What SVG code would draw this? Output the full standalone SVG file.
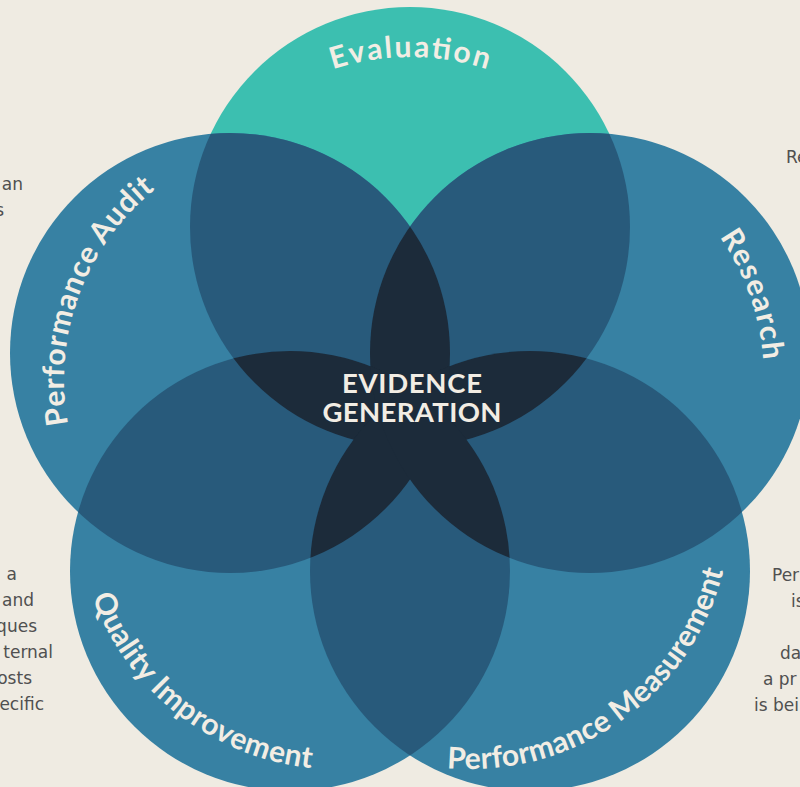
<svg xmlns="http://www.w3.org/2000/svg" xmlns:xlink="http://www.w3.org/1999/xlink" width="800" height="787" viewBox="0 0 800 787">
<style>
.bg{fill:#efebe2}
.teal{fill:#3cbfb0}
.blue{fill:#3781a3}
.m{fill:#285a7b}
.d{fill:#1c2b3a}
.lbl{font-family:"Lato","Open Sans","DejaVu Sans",sans-serif;font-weight:700;font-size:30px;fill:#f2ede4}
.ctr{font-family:"Lato","Open Sans","DejaVu Sans",sans-serif;font-weight:700;font-size:27.5px;fill:#f2ede4;text-anchor:middle}
.frag{font-family:"DejaVu Sans","Lato",sans-serif;font-weight:400;font-size:17px;fill:#505050}
.end{text-anchor:end}
</style>
<defs>
<clipPath id="cT"><circle cx="410" cy="227" r="220"/></clipPath>
<clipPath id="cL"><circle cx="230" cy="353" r="220"/></clipPath>
<clipPath id="cR"><circle cx="590" cy="353" r="220"/></clipPath>
<clipPath id="cBL"><circle cx="290" cy="571" r="220"/></clipPath>
<clipPath id="cBR"><circle cx="530" cy="571" r="220"/></clipPath>
<path id="pEval" d="M 162,305 A 248 248 0 0 1 658,305"/>
<path id="pAudit" d="M 224,609.8 A 245 245 0 0 1 394,150.2"/>
<path id="pRes" d="M 430.5,143.3 A 250 250 0 0 1 597.5,614.7"/>
<path id="pQual" d="M 132.1,346.2 A 262 262 0 0 0 545.1,668.8"/>
<path id="pMeas" d="M 257.5,659.6 A 261 261 0 0 0 682.5,356.4"/>
</defs>
<rect class="bg" x="0" y="0" width="800" height="787"/>

<g id="side-text">
<text class="frag end" x="23" y="190">an</text>
<text class="frag end" x="4" y="216">s</text>
<text class="frag end" x="17" y="580">a</text>
<text class="frag end" x="34" y="606">and</text>
<text class="frag end" x="37" y="632">ques</text>
<text class="frag end" x="53" y="658">ternal</text>
<text class="frag end" x="32" y="684">osts</text>
<text class="frag end" x="44" y="710">ecific</text>
<text class="frag" x="786" y="163">Re</text>
<text class="frag" x="772" y="581">Per</text>
<text class="frag" x="791" y="607">is</text>
<text class="frag" x="780" y="659">da</text>
<text class="frag" x="763" y="685">a pr</text>
<text class="frag" x="754" y="711">is bei</text>
</g>

<g id="node-evaluation">
<circle class="teal" cx="410" cy="227" r="220"/>
<text class="lbl"><textPath href="#pEval" startOffset="50%" text-anchor="middle" textLength="157">Evaluation</textPath></text>
</g>
<g id="node-performance-audit">
<circle class="blue" cx="230" cy="353" r="220"/>
<text class="lbl"><textPath href="#pAudit" startOffset="50%" text-anchor="middle" textLength="263">Performance Audit</textPath></text>
</g>
<g id="node-research">
<circle class="blue" cx="590" cy="353" r="220"/>
<text class="lbl"><textPath href="#pRes" startOffset="50%" text-anchor="middle" textLength="132">Research</textPath></text>
</g>
<g id="node-quality-improvement">
<circle class="blue" cx="290" cy="571" r="220"/>
<text class="lbl"><textPath href="#pQual" startOffset="50%" text-anchor="middle" textLength="293">Quality Improvement</textPath></text>
</g>
<g id="node-performance-measurement">
<circle class="blue" cx="530" cy="571" r="220"/>
<text class="lbl"><textPath href="#pMeas" startOffset="50%" text-anchor="middle" textLength="370">Performance Measurement</textPath></text>
</g>

<g id="overlaps-two">
<circle class="m" cx="230" cy="353" r="220" clip-path="url(#cT)"/>
<circle class="m" cx="590" cy="353" r="220" clip-path="url(#cT)"/>
<circle class="m" cx="290" cy="571" r="220" clip-path="url(#cT)"/>
<circle class="m" cx="530" cy="571" r="220" clip-path="url(#cT)"/>
<circle class="m" cx="590" cy="353" r="220" clip-path="url(#cL)"/>
<circle class="m" cx="290" cy="571" r="220" clip-path="url(#cL)"/>
<circle class="m" cx="530" cy="571" r="220" clip-path="url(#cL)"/>
<circle class="m" cx="290" cy="571" r="220" clip-path="url(#cR)"/>
<circle class="m" cx="530" cy="571" r="220" clip-path="url(#cR)"/>
<circle class="m" cx="530" cy="571" r="220" clip-path="url(#cBL)"/>
</g>

<g id="node-evidence-generation">
<g clip-path="url(#cT)"><circle class="d" cx="590" cy="353" r="220" clip-path="url(#cL)"/></g>
<g clip-path="url(#cT)"><circle class="d" cx="290" cy="571" r="220" clip-path="url(#cL)"/></g>
<g clip-path="url(#cT)"><circle class="d" cx="530" cy="571" r="220" clip-path="url(#cL)"/></g>
<g clip-path="url(#cT)"><circle class="d" cx="290" cy="571" r="220" clip-path="url(#cR)"/></g>
<g clip-path="url(#cT)"><circle class="d" cx="530" cy="571" r="220" clip-path="url(#cR)"/></g>
<g clip-path="url(#cT)"><circle class="d" cx="530" cy="571" r="220" clip-path="url(#cBL)"/></g>
<g clip-path="url(#cL)"><circle class="d" cx="290" cy="571" r="220" clip-path="url(#cR)"/></g>
<g clip-path="url(#cL)"><circle class="d" cx="530" cy="571" r="220" clip-path="url(#cR)"/></g>
<g clip-path="url(#cL)"><circle class="d" cx="530" cy="571" r="220" clip-path="url(#cBL)"/></g>
<g clip-path="url(#cR)"><circle class="d" cx="530" cy="571" r="220" clip-path="url(#cBL)"/></g>
<text class="ctr" x="412" y="393" textLength="140">EVIDENCE</text>
<text class="ctr" x="412" y="422" textLength="179">GENERATION</text>
</g>

<g id="connectors"/>
</svg>
